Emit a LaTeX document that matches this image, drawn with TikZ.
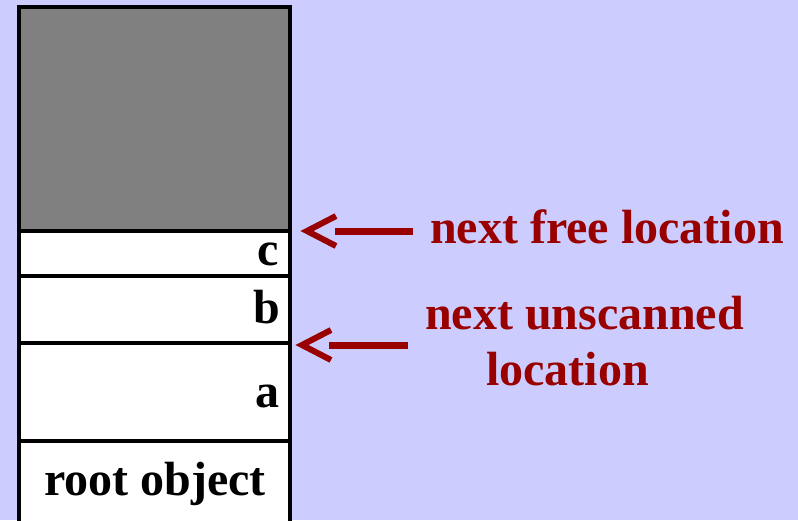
\documentclass[tikz,border=0pt]{standalone}
\usepackage{fontspec}
\setmainfont{Liberation Serif}
\usepackage{tikz}
\usetikzlibrary{calc}
\usepackage{xcolor}
\definecolor{bgblue}{HTML}{CCCCFF}
\definecolor{heapgray}{HTML}{808080}
\definecolor{ptrred}{HTML}{990000}
\tikzset{
  memcell/.style={line width=3.5pt, draw=black, fill=white},
  usedspace/.style={line width=3.5pt, draw=black, fill=heapgray},
  celltext/.style={font=\fontsize{48}{56}\selectfont\bfseries, text=black, inner sep=0pt},
  ptrtext/.style={font=\fontsize{48}{56}\selectfont\bfseries, text=ptrred, inner sep=0pt, align=left},
  shaft/.style={line width=7pt, draw=ptrred},
  chevron/.style={line width=6pt, draw=ptrred, miter limit=10},
}

\begin{document}
\begin{tikzpicture}[x=1pt, y=-1pt]
  \useasboundingbox (0,0) rectangle (798,520);
  \fill[bgblue] (0,0) rectangle (798,520);
  \clip (0,0) rectangle (798,520);
  % to-space column
  \draw[usedspace] (19,7) rectangle (290,231);
  \draw[memcell] (19,231) rectangle (290,276);
  \draw[memcell] (19,276) rectangle (290,343);
  \draw[memcell] (19,343) rectangle (290,441);
  \draw[memcell] (19,441) rectangle (290,530);
  \node[celltext, anchor=base east] (objc) at (279,265) {c};
  \node[celltext, anchor=base east] (objb) at (280,323) {b};
  \node[celltext, anchor=base east] (obja) at (280,407) {a};
  \node[celltext, anchor=base] (root) at (155,495) {root object};
  % pointers
  \node[ptrtext, anchor=base west] (freelbl) at (430,243) {next free location};
  \node[ptrtext, anchor=base west] (scanlbl) at (425,385) {next unscanned\\\hspace*{61pt}location};
  \coordinate (freetip) at (307,231);
  \coordinate (scantip) at (302,345);
  \draw[shaft, shorten <=17pt] (freelbl.west |- freetip) -- ($(freetip)+(28,0)$);
  \draw[chevron] ($(freetip)+(29,-15)$) -- (freetip) -- ($(freetip)+(29,15)$);
  \draw[shaft, shorten <=17pt] (scanlbl.west |- scantip) -- ($(scantip)+(27,0)$);
  \draw[chevron] ($(scantip)+(29,-15)$) -- (scantip) -- ($(scantip)+(29,15)$);
\end{tikzpicture}
\end{document}
